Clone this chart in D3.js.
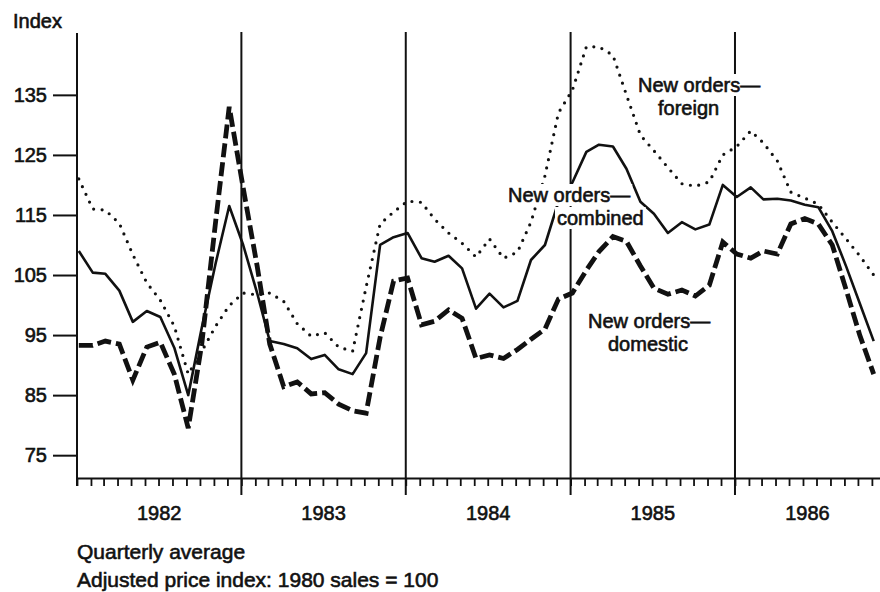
<!DOCTYPE html>
<html>
<head>
<meta charset="utf-8">
<script src="https://cdn.jsdelivr.net/npm/d3@7"></script>
<style>
  html, body { margin: 0; padding: 0; background: #fff; }
  svg { display: block; }
  text { font-family: "Liberation Sans", Arial, sans-serif; font-size: 20px; fill: #111; stroke: #111; stroke-width: 0.6px; }
</style>
</head>
<body>
<svg id="chart" width="880" height="592"></svg>
<script>
// Years shown on the time axis
const years = [1982, 1983, 1984, 1985, 1986];
const yTicks = [75, 85, 95, 105, 115, 125, 135];

// Monthly values, Jan 1982 - Nov 1986 (index, 1980 sales = 100)
const combined = [
  109, 105.4, 105.2, 102.4, 97.2, 99, 98, 92.9, 85, 96.2, 107, 116.5,
  110, 102, 94, 93.5, 92.8, 91, 91.7, 89.3, 88.5, 92, 110, 111.3,
  112, 107.8, 107.2, 108.2, 106.1, 99.4, 101.9, 99.6, 100.7, 107.5, 110, 117.2,
  120.4, 125.5, 126.7, 126.4, 122.7, 117.2, 115.2, 112, 113.8, 112.6, 113.4, 120,
  118, 119.6, 117.6, 117.7, 117.4, 116.7, 116.3, 112.3, 106.4, 100.3, 94
];
const foreign = [
  121, 116, 115.8, 113.6, 108.4, 103.7, 100.8, 96.5, 88.5, 92.3, 96.5, 99.9,
  102, 101.7, 102, 100.6, 96.9, 94.8, 95.4, 93, 92.3, 103, 113.5, 115.5,
  117.3, 117.1, 114.3, 112, 110.3, 108, 111, 107.8, 108.8, 113.8, 121.5, 132,
  135.8, 143, 143, 141.6, 135, 128.3, 125.7, 122.9, 120.2, 119.8, 120.5, 125,
  126.4, 129, 127, 124, 118.8, 117.8, 116.8, 113.8, 111, 108.2, 105
];
const domestic = [
  93.3, 93.3, 94, 93.5, 87.5, 93, 93.8, 88.5, 79.5, 93.5, 114, 133,
  119.5, 106.5, 93.5, 86.4, 87.2, 85.2, 85.4, 83.5, 82.4, 82, 94.6, 104,
  104.5, 96.7, 97.3, 99.2, 97.8, 91.1, 91.7, 91.1, 92.6, 94.3, 96, 101,
  102, 105.8, 108.9, 111.4, 110.6, 106.5, 102.8, 101.8, 102.5, 101.5, 103.3, 110.5,
  108.5, 107.8, 109, 108.5, 113.5, 114.4, 113.5, 110, 102.5, 95, 88.5
];

const start = new Date(years[0], 0, 1);
const end = new Date(1986, 10, 19);
const dates = d3.range(combined.length)
  .map(i => d3.timeDay.offset(d3.timeMonth.offset(start, i), 4));

const svg = d3.select('#chart');

const x = d3.scaleTime().domain([start, end]).range([77, 880]);
const y = d3.scaleLinear().domain([71.2, 145.3]).range([478, 33]);

// Year dividers
svg.append('g')
  .selectAll('line')
  .data(years.slice(1))
  .join('line')
  .attr('x1', d => x(new Date(d, 0, 1)))
  .attr('x2', d => x(new Date(d, 0, 1)))
  .attr('y1', 32)
  .attr('y2', 495)
  .attr('stroke', '#111')
  .attr('stroke-width', 2);

// Left axis
const yAxis = svg.append('g')
  .attr('transform', 'translate(77,0)')
  .call(d3.axisLeft(y).tickValues(yTicks).tickSize(24).tickPadding(6).tickSizeOuter(0));
yAxis.select('.domain').remove();
yAxis.selectAll('.tick line').attr('stroke', '#111').attr('stroke-width', 2);
yAxis.selectAll('.tick text')
  .attr('font-family', null).attr('font-size', null);
yAxis.attr('font-family', null).attr('font-size', null);

svg.append('line')
  .attr('x1', 77).attr('x2', 77)
  .attr('y1', 33).attr('y2', 486)
  .attr('stroke', '#111').attr('stroke-width', 2);

// Bottom axis with monthly ticks
const xAxis = svg.append('g')
  .attr('transform', 'translate(0,478)')
  .call(d3.axisBottom(x).ticks(d3.timeMonth.every(1)).tickSize(8).tickSizeOuter(0).tickFormat(''));
xAxis.select('.domain').attr('stroke', '#111').attr('stroke-width', 2);
xAxis.selectAll('.tick line').attr('stroke', '#111').attr('stroke-width', 1.8);

// Year labels centred on the visible part of each year
svg.append('g')
  .selectAll('text')
  .data(years)
  .join('text')
  .attr('x', d => {
    const a = Math.max(x(new Date(d, 0, 1)), x.range()[0]);
    const b = Math.min(x(new Date(d + 1, 0, 1)), x.range()[1]);
    return (a + b) / 2;
  })
  .attr('y', 520)
  .attr('text-anchor', 'middle')
  .text(d => d);

// Series
const line = d3.line()
  .x((d, i) => x(dates[i]))
  .y(d => y(d));

svg.append('path')
  .datum(foreign)
  .attr('d', line)
  .attr('fill', 'none')
  .attr('stroke', '#111')
  .attr('stroke-width', 3.2)
  .attr('stroke-linecap', 'round')
  .attr('stroke-dasharray', '0,8.5');

svg.append('path')
  .datum(combined)
  .attr('d', line)
  .attr('fill', 'none')
  .attr('stroke', '#111')
  .attr('stroke-width', 2.6)
  .attr('stroke-linejoin', 'round');

svg.append('path')
  .datum(domestic)
  .attr('d', line)
  .attr('fill', 'none')
  .attr('stroke', '#111')
  .attr('stroke-width', 4.8)
  .attr('stroke-dasharray', '14,5');

// Series labels with white backing
function label(x0, y0, lines) {
  const g = svg.append('g');
  lines.forEach((l, i) => {
    const t = g.append('text')
      .attr('x', x0 + l.dx)
      .attr('y', y0 + i * 23)
      .text(l.text);
    const b = t.node().getBBox();
    g.insert('rect', 'text')
      .attr('x', b.x - 2).attr('y', b.y)
      .attr('width', b.width + 4).attr('height', b.height)
      .attr('fill', '#fff');
  });
}
label(638, 92, [{ text: 'New orders—', dx: 0 }, { text: 'foreign', dx: 20 }]);
label(508, 202, [{ text: 'New orders—', dx: 0 }, { text: 'combined', dx: 49 }]);
label(588, 328, [{ text: 'New orders—', dx: 0 }, { text: 'domestic', dx: 20 }]);

// Axis title and notes
svg.append('text').attr('x', 13).attr('y', 28).text('Index');
svg.append('text').attr('x', 77).attr('y', 559).style('font-size', '21px').text('Quarterly average');
svg.append('text').attr('x', 77).attr('y', 587).style('font-size', '21px').text('Adjusted price index: 1980 sales = 100');
</script>
</body>
</html>
